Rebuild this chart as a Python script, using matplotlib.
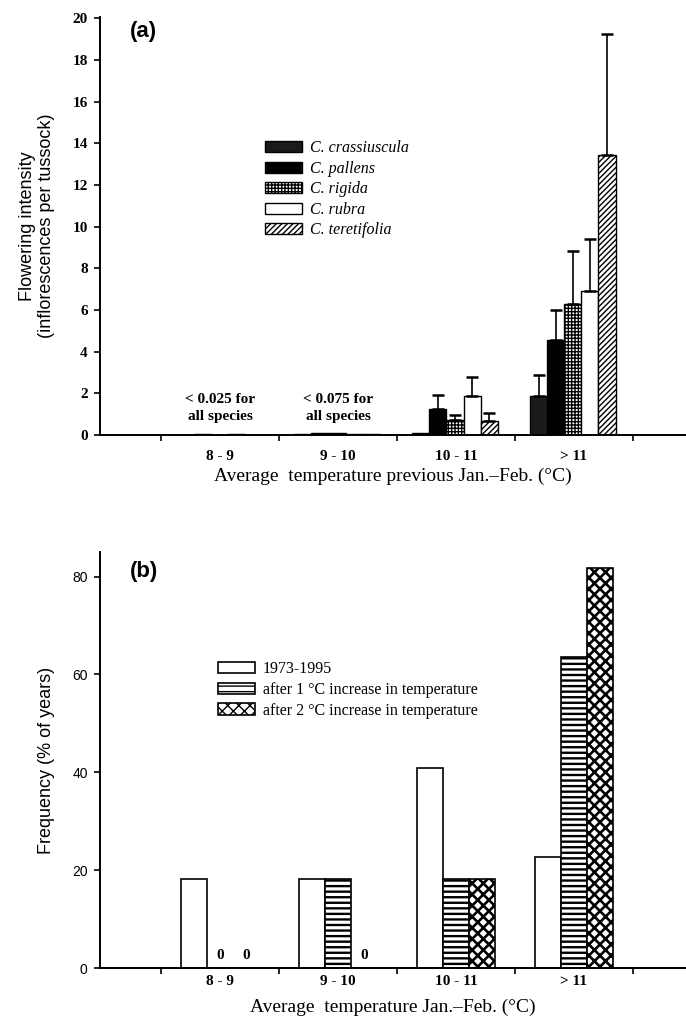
import matplotlib
matplotlib.use("Agg")
import matplotlib.pyplot as plt
import numpy as np
from matplotlib.patches import Patch

plt.rcParams['hatch.linewidth'] = 1.0

# ---------------- data ----------------
categories = ["8 - 9", "9 - 10", "10 - 11", "> 11"]

species = ["C. crassiuscula", "C. pallens", "C. rigida", "C. rubra", "C. teretifolia"]
flower_mean = {
    "C. crassiuscula": [0.01, 0.05, 0.10, 1.87],
    "C. pallens":      [0.02, 0.07, 1.26, 4.55],
    "C. rigida":       [0.01, 0.07, 0.72, 6.26],
    "C. rubra":        [0.02, 0.05, 1.87, 6.93],
    "C. teretifolia":  [0.01, 0.03, 0.67, 13.42],
}
flower_err = {
    "C. crassiuscula": [0.0, 0.0, 0.0, 1.01],
    "C. pallens":      [0.0, 0.0, 0.66, 1.44],
    "C. rigida":       [0.0, 0.0, 0.22, 2.59],
    "C. rubra":        [0.0, 0.0, 0.91, 2.45],
    "C. teretifolia":  [0.0, 0.0, 0.40, 5.81],
}
small_notes = ["< 0.025 for\nall species", "< 0.075 for\nall species"]

scenarios = ["1973-1995", "after 1 \u00b0C increase in temperature",
             "after 2 \u00b0C increase in temperature"]
freq = {
    "1973-1995": [18.2, 18.2, 40.9, 22.7],
    "after 1 \u00b0C increase in temperature": [0.0, 18.2, 18.2, 63.6],
    "after 2 \u00b0C increase in temperature": [0.0, 0.0, 18.2, 81.8],
}

# ---------------- styles ----------------
serif = "Liberation Serif"
sans = "Liberation Sans"
sp_style = {
    "C. crassiuscula": dict(facecolor="#1a1a1a", hatch=None, hlw=1.0),
    "C. pallens":      dict(facecolor="black", hatch=None, hlw=1.0),
    "C. rigida":       dict(facecolor="white", hatch="+++++", hlw=1.0),
    "C. rubra":        dict(facecolor="white", hatch=None, hlw=1.0),
    "C. teretifolia":  dict(facecolor="white", hatch="//////", hlw=1.0),
}
sc_style = {
    scenarios[0]: dict(facecolor="white", hatch=None, hlw=1.0),
    scenarios[1]: dict(facecolor="white", hatch="---", hlw=1.7),
    scenarios[2]: dict(facecolor="white", hatch="xxx", hlw=1.9),
}


def set_hlw(patches, lw):
    for p in patches:
        try:
            p.set_hatch_linewidth(lw)
        except AttributeError:
            p._hatch_linewidth = lw


fig = plt.figure(figsize=(6.86, 10.16), dpi=100)
x = np.arange(len(categories))
xlim = (-1.02, 3.95)


def style_axes(ax, cat_pad, ytick_font, ytick_bold, ytick_size):
    for s in ["top", "right"]:
        ax.spines[s].set_visible(False)
    for s in ["left", "bottom"]:
        ax.spines[s].set_linewidth(1.4)
    ax.set_xlim(*xlim)
    ax.set_xticks(np.arange(-0.5, len(categories), 1.0))
    ax.set_xticklabels([])
    ax.set_xticks(x, minor=True)
    ax.set_xticklabels(categories, minor=True, fontfamily=serif,
                       fontweight="bold", fontsize=11)
    ax.tick_params(axis="x", which="minor", length=0, pad=cat_pad)
    ax.tick_params(axis="x", which="major", length=4, width=1.2, direction="out")
    ax.tick_params(axis="y", length=4, width=1.2, direction="out", pad=5)
    for lab in ax.get_yticklabels():
        lab.set_fontfamily(ytick_font)
        lab.set_fontweight("bold" if ytick_bold else "normal")
        lab.set_fontsize(ytick_size)


# ---------------- panel (a) ----------------
ax1 = fig.add_axes([0.146, 0.572, 0.854, 0.411])
bw = 0.145
for i, sp in enumerate(species):
    pos = x + (i - 2) * bw - 0.01
    st = sp_style[sp]
    bars = ax1.bar(pos, flower_mean[sp], width=bw, facecolor=st["facecolor"],
                   edgecolor="black", linewidth=1.0, hatch=st["hatch"], zorder=2)
    set_hlw(bars, st["hlw"])
    err = np.array(flower_err[sp])
    m = err > 0
    ax1.errorbar(pos[m], np.array(flower_mean[sp])[m],
                 yerr=[np.zeros(m.sum()), err[m]], fmt="none",
                 ecolor="black", elinewidth=1.2, capsize=4, capthick=1.8,
                 zorder=3)
ax1.set_ylim(0, 20.05)
ax1.set_yticks(np.arange(0, 21, 2))
style_axes(ax1, 11, serif, True, 11)
for j, note in enumerate(small_notes):
    ax1.text(x[j], 1.3, note, ha="center", va="center", fontfamily=serif,
             fontsize=11, fontweight="bold", linespacing=1.35)
ax1.text(0.05, 0.99, "(a)", transform=ax1.transAxes, fontfamily=sans,
         fontweight="bold", fontsize=16, va="top", ha="left")
ax1.set_ylabel("Flowering intensity\n(inflorescences per tussock)",
               fontfamily=sans, fontsize=13, linespacing=1.15)
ax1.yaxis.set_label_coords(-0.077, 0.5)
ax1.set_xlabel("Average  temperature previous Jan.\u2013Feb. (\u00b0C)",
               fontfamily=serif, fontsize=14, labelpad=3)
handles1 = [Patch(facecolor=sp_style[s]["facecolor"], edgecolor="black",
                  hatch=sp_style[s]["hatch"], linewidth=1.0) for s in species]
leg1 = ax1.legend(handles1, species, loc="upper left",
                  bbox_to_anchor=(0.281, 0.705), frameon=False,
                  prop=dict(family=serif, style="italic", size=11.5),
                  handlelength=2.3, handleheight=0.7, labelspacing=0.28,
                  handletextpad=0.5, borderaxespad=0, borderpad=0)

# ---------------- panel (b) ----------------
ax2 = fig.add_axes([0.146, 0.0472, 0.854, 0.4094])
bw2 = 0.22
for i, sc in enumerate(scenarios):
    pos = x + (i - 1) * bw2
    st = sc_style[sc]
    bars = ax2.bar(pos, freq[sc], width=bw2, facecolor=st["facecolor"],
                   edgecolor="black", linewidth=1.2, hatch=st["hatch"], zorder=2)
    set_hlw(bars, st["hlw"])
    for p, v in zip(pos, freq[sc]):
        if v == 0:
            ax2.text(p, 1.3, "0", ha="center", va="bottom", fontfamily=serif,
                     fontweight="bold", fontsize=11)
ax2.set_ylim(0, 85)
ax2.set_yticks(np.arange(0, 81, 20))
style_axes(ax2, 5, sans, False, 10)
ax2.text(0.05, 0.978, "(b)", transform=ax2.transAxes, fontfamily=sans,
         fontweight="bold", fontsize=16, va="top", ha="left")
ax2.set_ylabel("Frequency (% of years)", fontfamily=sans, fontsize=13)
ax2.yaxis.set_label_coords(-0.077, 0.5)
ax2.set_xlabel("Average  temperature Jan.\u2013Feb. (\u00b0C)",
               fontfamily=serif, fontsize=14, labelpad=8)
handles2 = []
for s in scenarios:
    hp = Patch(facecolor=sc_style[s]["facecolor"], edgecolor="black",
               hatch=sc_style[s]["hatch"], linewidth=1.2)
    set_hlw([hp], sc_style[s]["hlw"])
    handles2.append(hp)
leg2 = ax2.legend(handles2, scenarios, loc="upper left",
                  bbox_to_anchor=(0.201, 0.738), frameon=False,
                  prop=dict(family=serif, size=11.5),
                  handlelength=2.3, handleheight=0.7, labelspacing=0.3,
                  handletextpad=0.5, borderaxespad=0, borderpad=0)

fig.savefig("out.png", dpi=100)
